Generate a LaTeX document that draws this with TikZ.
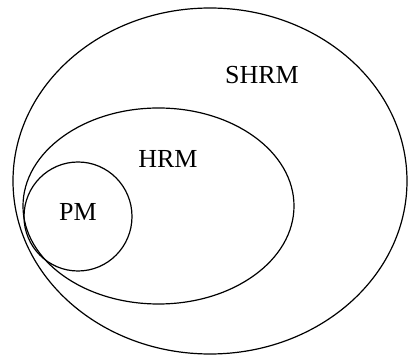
\documentclass[tikz,border=0pt]{standalone}
\usepackage{fontspec}
\setmainfont{Liberation Serif}
\usetikzlibrary{shapes.geometric,positioning}

\tikzset{
    set/.style={draw, ellipse, line width=1.2pt, inner sep=0pt},
    setlabel/.style={font=\fontsize{26}{30}\selectfont, inner sep=0pt}
}

\begin{document}
\begin{tikzpicture}[x=1pt, y=-1pt]
    \useasboundingbox (0,0) rectangle (408,358);

    % Nested sets
    \node[set, minimum width=394pt, minimum height=346pt] (shrm) at (210,181) {};
    \node[set, minimum width=271pt, minimum height=196pt] (hrm) at (158.5,206) {};
    \node[set, minimum width=108pt, minimum height=109pt] (pm) at (78,216.5) {};

    % Labels
    \node[setlabel] (shrmlabel) at (262,75) {SHRM};
    \node[setlabel] (hrmlabel) at (168,159) {HRM};
    \node[setlabel] (pmlabel) at (78,212) {PM};
\end{tikzpicture}
\end{document}
